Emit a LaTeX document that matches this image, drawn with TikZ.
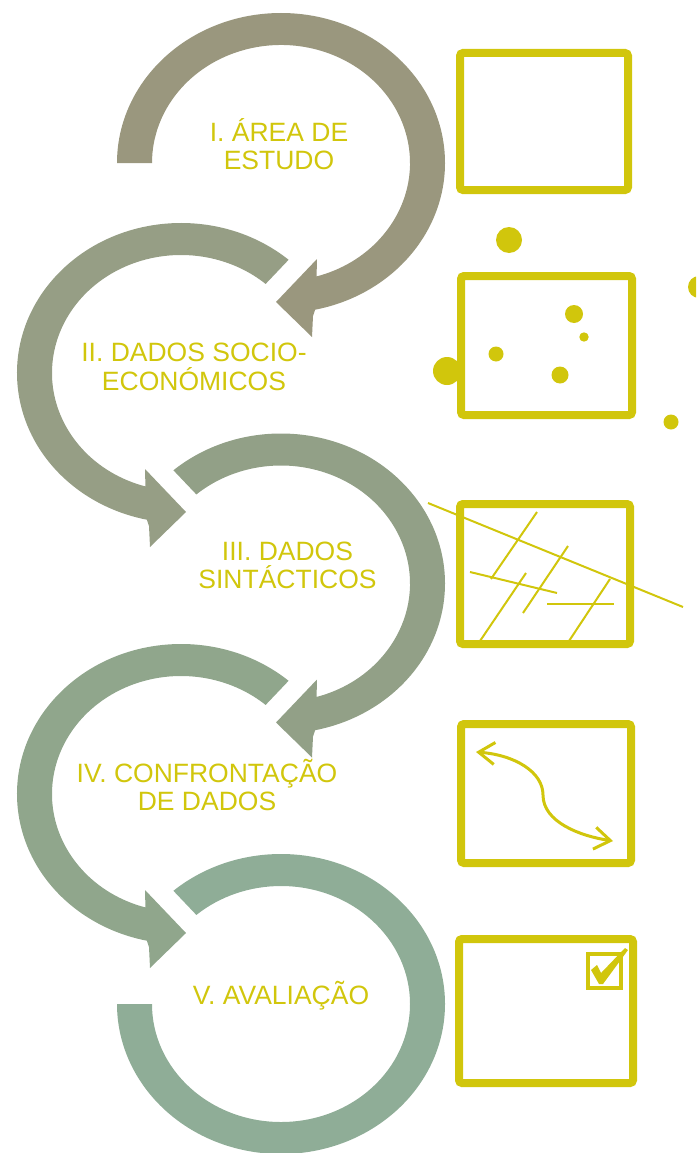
\documentclass[tikz,border=0pt]{standalone}
\usepackage{fontspec}
\setmainfont{Liberation Sans}
\usetikzlibrary{arrows.meta}
\definecolor{ylw}{HTML}{D1C60C}
\definecolor{cA}{HTML}{9A977E}
\definecolor{cB}{HTML}{969E85}
\definecolor{cC}{HTML}{92A087}
\definecolor{cD}{HTML}{90A68C}
\definecolor{cE}{HTML}{8FAD97}
\tikzset{
  lbl/.style={text=ylw, font=\fontsize{26.5}{28.3}\selectfont, align=center, inner sep=0pt, anchor=base},
  panel/.style={draw=ylw, line width=8pt, rounded corners=3pt},
  dot/.style={fill=ylw},
  thin line/.style={draw=ylw, line width=2pt},
}
\begin{document}
\begin{tikzpicture}[x=1pt,y=-1pt]
\useasboundingbox (0,0) rectangle (696,1153);
\clip (0,0) rectangle (696,1153);

% ring 1 (flat tail at left, arrowhead at bottom)
\begin{scope}[shift={(281,163)}]
\fill[cA] (180:164 and 150) arc[start angle=180, end angle=438, x radius=164, y radius=150]
  -- (32,153) -- (31,174) -- (-5,139) -- (36,96) -- (74:129 and 118)
  arc[start angle=434, end angle=180, x radius=129, y radius=118] -- cycle;
\end{scope}
% ring 2 (mirrored)
\begin{scope}[shift={(181,373)}, xscale=-1]
\fill[cB] (229:164 and 150) arc[start angle=229, end angle=438, x radius=164, y radius=150]
  -- (32,153) -- (31,174) -- (-5,139) -- (36,96) -- (74:129 and 118)
  arc[start angle=434, end angle=229, x radius=129, y radius=118] -- cycle;
\end{scope}
% ring 3
\begin{scope}[shift={(281,583.5)}]
\fill[cC] (229:164 and 150) arc[start angle=229, end angle=438, x radius=164, y radius=150]
  -- (32,153) -- (31,174) -- (-5,139) -- (36,96) -- (74:129 and 118)
  arc[start angle=434, end angle=229, x radius=129, y radius=118] -- cycle;
\end{scope}
% ring 4 (mirrored)
\begin{scope}[shift={(181,794)}, xscale=-1]
\fill[cD] (229:164 and 150) arc[start angle=229, end angle=438, x radius=164, y radius=150]
  -- (32,153) -- (31,174) -- (-5,139) -- (36,96) -- (74:129 and 118)
  arc[start angle=434, end angle=229, x radius=129, y radius=118] -- cycle;
\end{scope}
% ring 5 (no arrowhead)
\begin{scope}[shift={(281,1004)}]
\fill[cE] (229:164 and 150) arc[start angle=229, end angle=540, x radius=164, y radius=150]
  -- (180:129 and 118)
  arc[start angle=540, end angle=229, x radius=129, y radius=118] -- cycle;
\end{scope}

% labels (base anchor = baseline of the last line)
\node[lbl] (t1) at (279,169.3) {I. ÁREA DE\\ESTUDO};
\node[lbl] (t2) at (194,390) {II. DADOS SOCIO-\\ECONÓMICOS};
\node[lbl] (t3) at (287.5,588.5) {III. DADOS\\SINTÁCTICOS};
\node[lbl] (t4) at (207,810.5) {IV. CONFRONTAÇÃO\\DE DADOS};
\node[lbl] (t5) at (281,1004) {V. AVALIAÇÃO};

% panels
\draw[panel] (460,53) rectangle (628,190);
\draw[panel] (461,276) rectangle (632,415);
\draw[panel] (460,504) rectangle (630,644);
\draw[panel] (461,724) rectangle (631,863);
\draw[panel] (459,939) rectangle (633,1083);

% panel 2: dots
\fill[dot] (509,240) circle (13);
\fill[dot] (699,287) circle (11);
\fill[dot] (574,314) circle (9);
\fill[dot] (584,337) circle (4.7);
\fill[dot] (496,354) circle (7.5);
\fill[dot] (447,371) circle (14);
\fill[dot] (560,375) circle (8.5);
\fill[dot] (671,422) circle (7.5);

% panel 3: lines
\draw[thin line] (428,503) -- (683,607);
\draw[thin line] (537,512) -- (491,579);
\draw[thin line] (470,572) -- (557,593);
\draw[thin line] (526,573) -- (480,641);
\draw[thin line] (568,546) -- (523,613);
\draw[thin line] (547,604) -- (614,604);
\draw[thin line] (610,579) -- (569,641);

% panel 4: double arrow
\draw[draw=ylw, line width=3pt, {Straight Barb[length=16pt,width=22pt]}-{Straight Barb[length=16pt,width=22pt]}]
  (476,752) .. controls (515,755) and (543,772) .. (543,795)
  .. controls (543,822) and (580,836) .. (613,841);

% panel 5: check box
\draw[draw=ylw, line width=3.5pt] (588,954) rectangle (621,988);
\fill[ylw] (591,970) -- (597,965) -- (601,973) -- (625,948) -- (628,950) -- (603,984) -- (599,984) -- cycle;
\end{tikzpicture}
\end{document}
